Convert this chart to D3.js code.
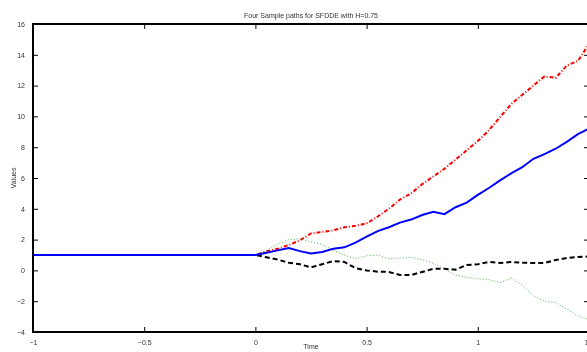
<!DOCTYPE html>
<html>
<head>
<meta charset="utf-8">
<script src="https://cdn.jsdelivr.net/npm/d3@7"></script>
<style>
  body { margin: 0; background: #fff; }
  svg { display: block; will-change: transform; }
  text { font-family: "Liberation Sans", Arial, Helvetica, sans-serif; fill: #333; }
  .axis path, .axis line { stroke: #000; }
</style>
</head>
<body>
<script>
(function(){

    //time values: constant history on [-1,0], then sample paths on [0,1.5]
    var time = [-1, 0, 0.05, 0.1, 0.15, 0.2, 0.25, 0.3, 0.35, 0.4, 0.45, 0.5, 0.55, 0.6, 0.65, 0.7,
                0.75, 0.8, 0.85, 0.9, 0.95, 1.0, 1.05, 1.1, 1.15, 1.2, 1.25, 1.3, 1.35, 1.4, 1.45, 1.5];

    var pathRed   = [1, 1.0, 1.25, 1.4, 1.65, 1.95, 2.4, 2.5, 2.6, 2.8, 2.9, 3.05, 3.5, 4.0, 4.6, 5.0,
                     5.6, 6.1, 6.6, 7.2, 7.8, 8.4, 9.1, 9.95, 10.8, 11.4, 12.0, 12.6, 12.5, 13.3, 13.6, 14.7];
    var pathBlue  = [1, 1.0, 1.15, 1.3, 1.45, 1.25, 1.1, 1.2, 1.4, 1.5, 1.8, 2.2, 2.55, 2.8, 3.1, 3.3,
                     3.6, 3.8, 3.65, 4.1, 4.4, 4.9, 5.35, 5.85, 6.3, 6.7, 7.25, 7.55, 7.9, 8.35, 8.85, 9.2];
    var pathGreen = [1, 1.0, 1.3, 1.7, 2.0, 2.05, 1.85, 1.7, 1.3, 1.0, 0.75, 0.95, 1.0, 0.75, 0.8, 0.85,
                     0.7, 0.45, 0.1, -0.3, -0.45, -0.55, -0.6, -0.8, -0.5, -0.95, -1.65, -2.0, -2.1, -2.5, -2.95, -3.2];
    var pathBlack = [1, 1.0, 0.85, 0.7, 0.5, 0.4, 0.2, 0.4, 0.6, 0.55, 0.15, 0.0, -0.08, -0.1, -0.3, -0.3,
                     -0.1, 0.1, 0.1, 0.05, 0.35, 0.4, 0.55, 0.48, 0.55, 0.5, 0.48, 0.48, 0.68, 0.8, 0.87, 0.9];

    var xTicks = [-1, -0.5, 0, 0.5, 1, 1.5];
    var yTicks = [-4, -2, 0, 2, 4, 6, 8, 10, 12, 14, 16];

    var titleText = "Four Sample paths for SFDDE with H=0.75";

    //series drawn in this order, last one on top
    var series = [
        {name: "red",   values: pathRed,   color: "#ff0000", width: 2,   dash: "4,2,1,2"},
        {name: "green", values: pathGreen, color: "#4fb04f", width: 1,   dash: "1,2"},
        {name: "black", values: pathBlack, color: "#000000", width: 2,   dash: "5,3"},
        {name: "blue",  values: pathBlue,  color: "#0000ff", width: 2,   dash: null}
    ];

    window.onload = drawChart();

    function drawChart(){
        var width = 587,
            height = 352;

        //plot box (right edge runs just past the window, as in the figure)
        var left = 33, right = 589, top = 24, bottom = 332;

        var svg = d3.select("body")
            .append("svg")
            .attr("width", width)
            .attr("height", height);

        var x = d3.scaleLinear().domain([-1, 1.5]).range([left, right]);
        var y = d3.scaleLinear().domain([-4, 16]).range([bottom, top]);

        svg.append("clipPath")
            .attr("id", "plotClip")
            .append("rect")
            .attr("x", left).attr("y", top)
            .attr("width", right - left).attr("height", bottom - top);

        //lines
        var line = d3.line()
            .x(function(d){ return x(d[0]); })
            .y(function(d){ return y(d[1]); });

        var lines = svg.append("g").attr("clip-path", "url(#plotClip)");
        series.forEach(function(s){
            var pts = time.map(function(t, i){ return [t, s.values[i]]; });
            lines.append("path")
                .datum(pts)
                .attr("fill", "none")
                .attr("stroke", s.color)
                .attr("stroke-width", s.width)
                .attr("stroke-dasharray", s.dash)
                .attr("d", line);
        });

        //axes, ticks inward like matlab
        var fmt = function(d){ return d < 0 ? "\u2212" + Math.abs(d) : String(d); };

        svg.append("g")
            .attr("class", "axis")
            .attr("transform", "translate(0," + bottom + ")")
            .call(d3.axisBottom(x).tickValues(xTicks).tickSize(-5).tickPadding(8).tickFormat(fmt))
            .call(function(g){ g.selectAll("text").style("font-size", "7px"); });

        svg.append("g")
            .attr("class", "axis")
            .attr("transform", "translate(0," + top + ")")
            .call(d3.axisTop(x).tickValues(xTicks).tickSize(-5).tickFormat(""));

        svg.append("g")
            .attr("class", "axis")
            .attr("transform", "translate(" + left + ",0)")
            .call(d3.axisLeft(y).tickValues(yTicks).tickSize(-5).tickPadding(8).tickFormat(fmt))
            .call(function(g){ g.selectAll("text").style("font-size", "7px"); });

        svg.append("g")
            .attr("class", "axis")
            .attr("transform", "translate(" + right + ",0)")
            .call(d3.axisRight(y).tickValues(yTicks).tickSize(-5).tickFormat(""));

        //box
        svg.append("rect")
            .attr("x", left).attr("y", top)
            .attr("width", right - left).attr("height", bottom - top)
            .attr("fill", "none")
            .attr("stroke", "#000")
            .attr("stroke-width", 2);

        //labels
        svg.append("text")
            .attr("x", (left + right) / 2)
            .attr("y", 18)
            .attr("text-anchor", "middle")
            .style("font-size", "7px")
            .text(titleText);

        svg.append("text")
            .attr("x", (left + right) / 2)
            .attr("y", 349)
            .attr("text-anchor", "middle")
            .style("font-size", "7px")
            .text("Time");

        svg.append("text")
            .attr("transform", "translate(16," + (top + bottom) / 2 + ") rotate(-90)")
            .attr("text-anchor", "middle")
            .style("font-size", "7px")
            .text("Values");
    };

})();
</script>
</body>
</html>
